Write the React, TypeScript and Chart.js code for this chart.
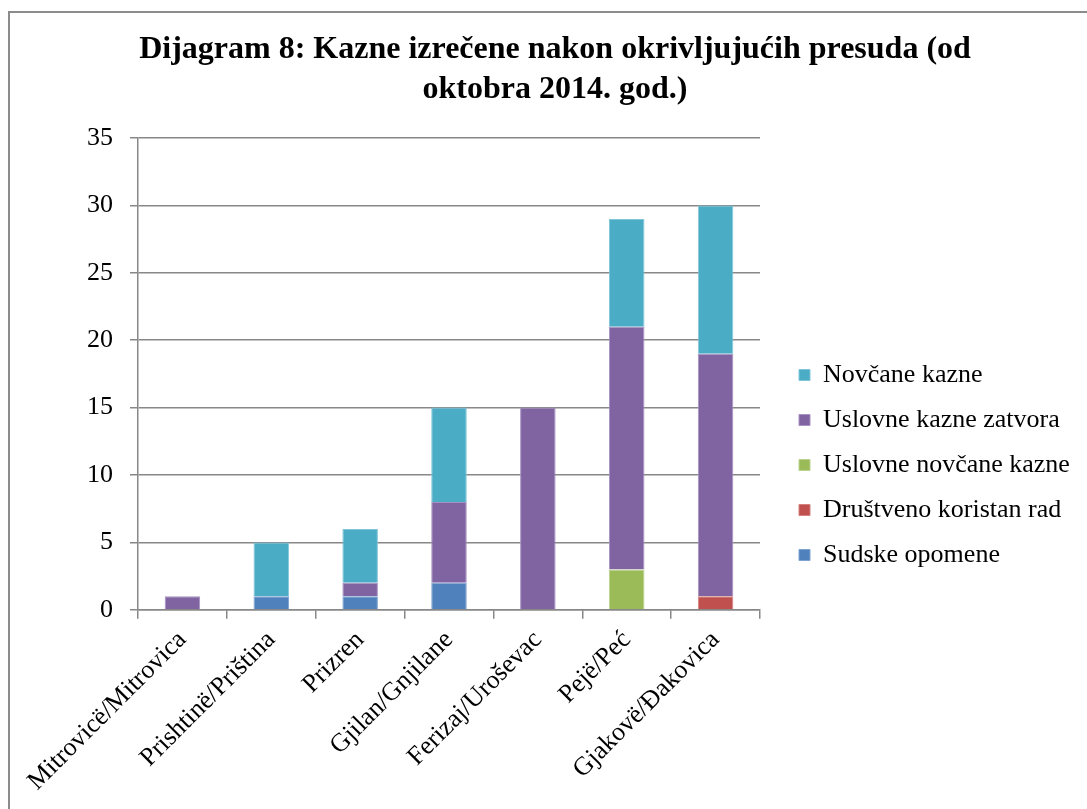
import React, { useEffect, useRef } from "react";
import { Chart, registerables } from "chart.js";

Chart.register(...registerables);

const categories = [
  "Mitrovicë/Mitrovica",
  "Prishtinë/Priština",
  "Prizren",
  "Gjilan/Gnjilane",
  "Ferizaj/Uroševac",
  "Pejë/Peć",
  "Gjakovë/Đakovica",
];

const sudskeOpomene = [0, 1, 1, 2, 0, 0, 0];
const drustvenoKoristanRad = [0, 0, 0, 0, 0, 0, 1];
const uslovneNovcaneKazne = [0, 0, 0, 0, 0, 3, 0];
const uslovneKazneZatvora = [1, 0, 1, 6, 15, 18, 18];
const novcaneKazne = [0, 4, 4, 7, 0, 8, 11];

const titleLines = [
  "Dijagram 8: Kazne izrečene nakon okrivljujućih presuda (od",
  "oktobra 2014. god.)",
];

const FONT = "'Liberation Serif', 'Times New Roman', serif";
const GRID = "#888888";

// layout tweaks
const CANVAS_W = 1087;
const CANVAS_H = 809;
const PLOT_RIGHT = 760;
const LEGEND_LEFT = 780;
const LEGEND_TOP = 343;
const TITLE_CENTER_X = 555;

export default function App() {
  const ref = useRef<HTMLCanvasElement | null>(null);

  useEffect(() => {
    if (!ref.current) return;
    const mk = (label: string, data: number[], color: string, border: string) => ({
      label,
      data,
      backgroundColor: color,
      borderColor: border,
      borderWidth: 1,
      barPercentage: 0.4,
      categoryPercentage: 1,
    });
    const layoutTweak = {
      id: "layoutTweak",
      beforeInit(chart: any) {
        const legend = chart.legend;
        if (legend) {
          const orig = legend.fit;
          legend.fit = function () {
            orig.call(this);
            this.width = CANVAS_W - PLOT_RIGHT;
          };
        }
      },
      afterLayout(chart: any) {
        const legend = chart.legend;
        if (legend) {
          const w = legend.right - legend.left;
          const h = legend.bottom - legend.top;
          legend.left = LEGEND_LEFT;
          legend.right = LEGEND_LEFT + w;
          legend.top = LEGEND_TOP;
          legend.bottom = LEGEND_TOP + h;
        }
        const t = chart.titleBlock;
        if (t) {
          t.left = TITLE_CENTER_X - 540;
          t.right = TITLE_CENTER_X + 540;
        }
      },
    };
    const chart = new Chart(ref.current, {
      type: "bar",
      data: {
        labels: categories,
        datasets: [
          mk("Sudske opomene", sudskeOpomene, "#4F81BD", "#7fa3d0"),
          mk("Društveno koristan rad", drustvenoKoristanRad, "#C0504D", "#d4807e"),
          mk("Uslovne novčane kazne", uslovneNovcaneKazne, "#9BBB59", "#bcd38e"),
          mk("Uslovne kazne zatvora", uslovneKazneZatvora, "#8064A2", "#a691c0"),
          mk("Novčane kazne", novcaneKazne, "#4BACC6", "#80c6d8"),
        ],
      },
      options: {
        animation: false,
        responsive: false,
        maintainAspectRatio: false,
        layout: { padding: { left: 10, right: 0, top: 10, bottom: 6 } },
        plugins: {
          title: {
            display: true,
            text: titleLines,
            color: "#000",
            font: { family: FONT, size: 32, weight: "bold", lineHeight: 1.25 },
            padding: { top: 20, bottom: 28 },
          },
          legend: {
            display: true,
            position: "right",
            align: "start",
            reverse: true,
            labels: {
              color: "#000",
              font: { family: FONT, size: 26 },
              boxWidth: 11,
              boxHeight: 11,
              padding: 19,
            },
          },
          tooltip: { enabled: false },
        },
        scales: {
          x: {
            stacked: true,
            grid: {
              display: true,
              drawOnChartArea: false,
              drawTicks: true,
              tickLength: 9,
              color: GRID,
              lineWidth: 1.5,
            },
            border: { display: true, color: GRID, width: 1.5 },
            ticks: {
              color: "#000",
              font: { family: FONT, size: 26 },
              minRotation: 45,
              maxRotation: 45,
              autoSkip: false,
              padding: 6,
            },
          },
          y: {
            stacked: true,
            min: 0,
            max: 35,
            afterFit(scale: any) {
              scale.width = 128;
            },
            grid: {
              color: GRID,
              lineWidth: 1.5,
              tickLength: 8,
            },
            border: { display: true, color: GRID, width: 1.5 },
            ticks: {
              stepSize: 5,
              color: "#000",
              font: { family: FONT, size: 26 },
              padding: 17,
            },
          },
        },
      },
      plugins: [layoutTweak],
    });
    return () => chart.destroy();
  }, []);

  return (
    <div
      style={{
        position: "absolute",
        left: 0,
        top: 0,
        width: CANVAS_W,
        height: CANVAS_H,
        overflow: "hidden",
        background: "#fff",
      }}
    >
      <div
        style={{
          position: "absolute",
          left: 8,
          top: 11,
          width: 1100,
          height: 820,
          border: "2px solid #8c8c8c",
        }}
      />
      <canvas
        ref={ref}
        width={CANVAS_W}
        height={CANVAS_H}
        style={{ position: "absolute", left: 0, top: 0, width: CANVAS_W, height: CANVAS_H }}
      />
    </div>
  );
}
